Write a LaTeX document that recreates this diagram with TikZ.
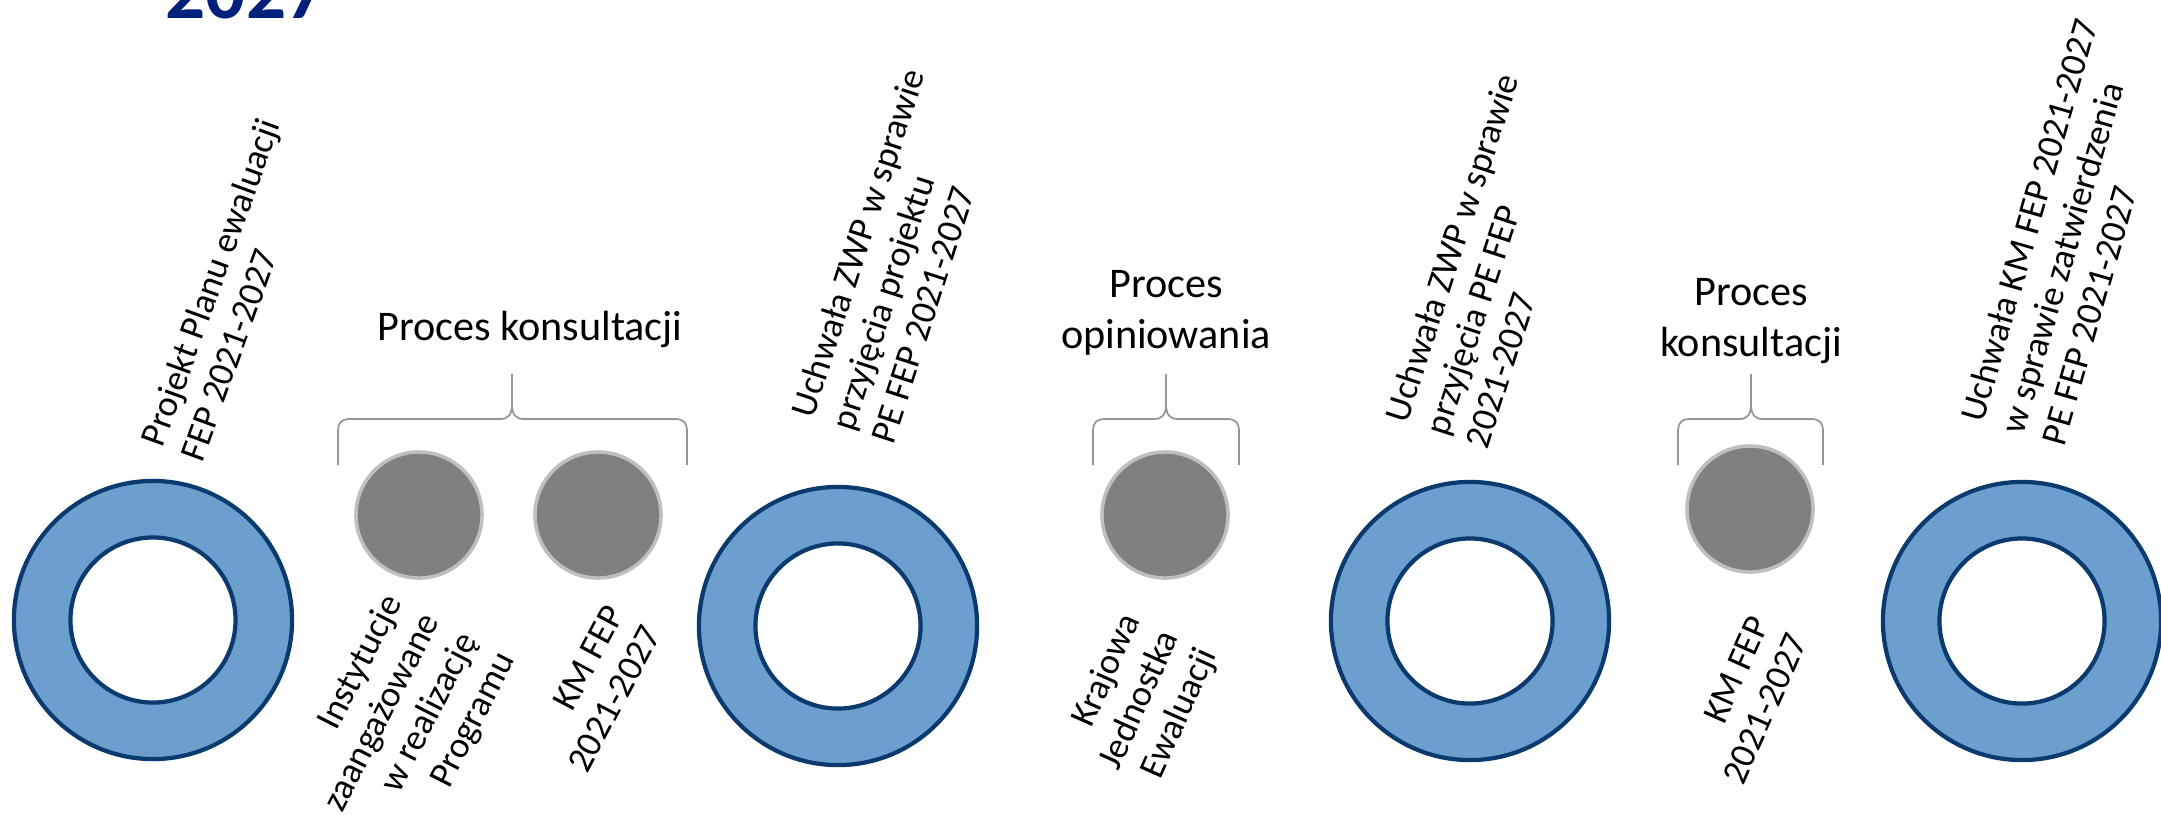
\documentclass[tikz,border=0pt]{standalone}
\usepackage{fontspec}
\setmainfont{Carlito}
\usepackage{tikz}

\definecolor{ringfill}{RGB}{108,158,206}
\definecolor{ringline}{RGB}{10,58,110}
\definecolor{dotgray}{RGB}{128,128,128}
\definecolor{bracegray}{RGB}{150,150,150}
\definecolor{titleblue}{RGB}{0,33,122}

% brace over a group of dots: left x, right x, cusp x
\newcommand{\procbrace}[3]{%
  \draw[brace line] (#1,465) -- (#1,430) .. controls (#1,423) and (#1+4,419) .. (#1+11,419)
    -- (#3-12,419) .. controls (#3-4,419) and (#3,415) .. (#3,404) -- (#3,374)
    (#3,404) .. controls (#3,415) and (#3+4,419) .. (#3+12,419)
    -- (#2-11,419) .. controls (#2-4,419) and (#2,423) .. (#2,430) -- (#2,465);
}

\begin{document}
\begin{tikzpicture}[x=0.01cm,y=-0.01cm,
    ring/.style={circle,draw=ringline,line width=1.2pt,fill=ringfill,minimum size=2.78cm,inner sep=0pt},
    hole/.style={circle,draw=ringline,line width=1.2pt,fill=white,minimum size=1.65cm,inner sep=0pt},
    dot/.style={circle,fill=dotgray,draw=dotgray!50,line width=1pt,minimum size=1.26cm,inner sep=0pt},
    toplabel/.style={anchor=south west,align=left,inner sep=0pt,font=\fontsize{10.4}{11.95}\selectfont},
    botlabel/.style={anchor=north east,align=right,inner sep=0pt,font=\fontsize{10.4}{11.95}\selectfont},
    proces/.style={align=center,inner sep=0pt,font=\fontsize{12}{14.5}\selectfont},
    brace line/.style={draw=bracegray,line width=0.5pt}]

  \useasboundingbox[fill=white] (0,0) rectangle (2161,814);

  \node[anchor=base,inner sep=0pt,text=titleblue,font=\fontsize{22.5}{26}\selectfont\bfseries] (title) at (246,18) {2027};

  % milestones
  \node[ring] (r1) at (153,620) {};
  \node[hole] (h1) at (r1) {};
  \node[ring] (r2) at (838,626) {};
  \node[hole] (h2) at (r2) {};
  \node[ring] (r3) at (1470,621) {};
  \node[hole] (h3) at (r3) {};
  \node[ring] (r4) at (2022,621) {};
  \node[hole] (h4) at (r4) {};

  % participants
  \node[dot] (d1) at (419,515) {};
  \node[dot] (d2) at (598,515) {};
  \node[dot] (d3) at (1165,515) {};
  \node[dot] (d4) at (1750,509) {};

  \procbrace{338}{687}{512}
  \procbrace{1093}{1239}{1166}
  \procbrace{1678}{1823}{1751}

  \node[proces,anchor=base] (p1) at (530,340) {Proces konsultacji};
  \node[proces,anchor=north] (p2) at (1166,270) {Proces\\opiniowania};
  \node[proces,anchor=north] (p3) at (1751,278) {Proces\\konsultacji};

  \node[toplabel,rotate=70] (t1) at (203,464) {Projekt Planu ewaluacji\\FEP 2021-2027};
  \node[toplabel,rotate=72] (t2) at (894,446) {Uchwała ZWP w sprawie\\przyjęcia projektu\\PE FEP 2021-2027};
  \node[toplabel,rotate=72] (t3) at (1488,451) {Uchwała ZWP w sprawie\\przyjęcia PE FEP\\2021-2027};
  \node[toplabel,rotate=74] (t4) at (2065,448) {Uchwała KM FEP 2021-2027\\w sprawie zatwierdzenia\\PE FEP 2021-2027};

  \node[botlabel,rotate=63] (b1) at (380,590) {Instytucje\\zaangażowane\\w realizację\\Programu};
  \node[botlabel,rotate=62] (b2) at (604,602) {KM FEP\\2021-2027};
  \node[botlabel,rotate=66] (b3) at (1117,609) {Krajowa\\Jednostka\\Ewaluacji};
  \node[botlabel,rotate=66] (b4) at (1748,613) {KM FEP\\2021-2027};
\end{tikzpicture}
\end{document}
